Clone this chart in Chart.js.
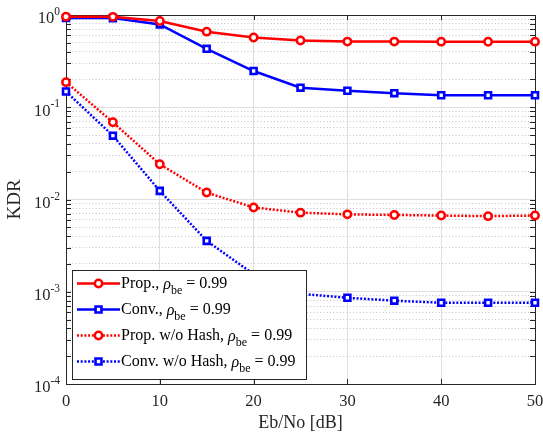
<!DOCTYPE html>
<html><head><meta charset="utf-8">
<script src="https://cdn.jsdelivr.net/npm/chart.js@4/dist/chart.umd.min.js"></script>
<style>html,body{margin:0;padding:0;background:#fff}</style>
</head><body>
<canvas id="c" width="543" height="434"></canvas>
<script>
// ---- data ----
const ebnoDb = [0, 5, 10, 15, 20, 25, 30, 35, 40, 45, 50];
const propKDR = [0.96, 0.955, 0.86, 0.66, 0.57, 0.53, 0.515, 0.515, 0.514, 0.512, 0.514];
const convKDR = [0.93, 0.925, 0.79, 0.43, 0.247, 0.163, 0.151, 0.142, 0.135, 0.135, 0.135];
const propNoHashKDR = [0.187, 0.0687, 0.0241, 0.0119, 0.0082, 0.0072, 0.0069, 0.0068, 0.0067, 0.0066, 0.0067];
const convNoHashKDR = [0.148, 0.0492, 0.0124, 0.00356, 0.00155, 0.00095, 0.00086, 0.0008, 0.00076, 0.00076, 0.00076];
const seriesNames = ['Prop., ', 'Conv., ', 'Prop. w/o Hash, ', 'Conv. w/o Hash, '];
const rhoLabel = '\u03C1';
const rhoSub = 'be';
const rhoValue = ' = 0.99';
const xTicks = [0, 10, 20, 30, 40, 50];
const yDecades = [1e-4, 1e-3, 1e-2, 1e-1, 1];
const yTickBase = '10';

const SERIF = '"Liberation Serif", "DejaVu Serif", serif';
const pts = arr => ebnoDb.map((x, i) => ({x, y: arr[i]}));

function mk(label, arr, color, dash, style) {
  const circ = style === 'circle';
  return {
    label, data: pts(arr), borderColor: color, backgroundColor: color,
    borderWidth: 2.5, borderDash: dash, pointStyle: style,
    pointRadius: circ ? 3.7 : 4.2, pointBorderWidth: circ ? 2.5 : 2.6,
    pointBackgroundColor: '#ffffff', pointBorderColor: color,
    tension: 0, yAxisID: 'y', clip: false
  };
}

const minorTicks = [];
for (let e = -4; e < 0; e++) for (let m = 2; m <= 9; m++) minorTicks.push(m * Math.pow(10, e));

const frame = {
  id: 'frame',
  beforeDatasetsDraw(chart) {
    const {ctx, chartArea: a, scales} = chart;
    ctx.save();
    ctx.strokeStyle = '#262626'; ctx.lineWidth = 1;
    ctx.beginPath();
    const L = 5;
    scales.x.ticks.forEach(t => {
      const px = Math.round(scales.x.getPixelForValue(t.value)) + 0.5;
      ctx.moveTo(px, a.bottom); ctx.lineTo(px, a.bottom - L);
      ctx.moveTo(px, a.top); ctx.lineTo(px, a.top + L);
    });
    scales.y.ticks.concat(scales.yMinor.ticks).forEach(t => {
      const py = Math.round(scales.y.getPixelForValue(t.value)) + 0.5;
      ctx.moveTo(a.left, py); ctx.lineTo(a.left + L, py);
      ctx.moveTo(a.right, py); ctx.lineTo(a.right - L, py);
    });
    ctx.stroke();
    ctx.strokeRect(Math.round(a.left) + 0.5, Math.round(a.top) + 0.5, Math.round(a.right - a.left), Math.round(a.bottom - a.top));
    // y tick labels with superscript exponents
    ctx.fillStyle = '#262626'; ctx.textAlign = 'right'; ctx.textBaseline = 'middle';
    scales.y.ticks.forEach(t => {
      const py = scales.y.getPixelForValue(t.value);
      const exp = String(Math.round(Math.log10(t.value)));
      const ex = a.left - 6;
      ctx.font = '11.5px ' + SERIF;
      ctx.fillText(exp, ex, py - 3);
      const ew = ctx.measureText(exp).width;
      ctx.font = '16.5px ' + SERIF;
      ctx.fillText(yTickBase, ex - ew, py + 4);
    });
    ctx.restore();
  },
  afterDraw(chart) {
    const {ctx, chartArea: a} = chart;
    const w = 234, h = 109, rowH = 26;
    const x0 = Math.round(a.left) + 6, y0 = Math.round(a.bottom) - 5 - h;
    ctx.save();
    ctx.fillStyle = '#fff'; ctx.fillRect(x0, y0, w, h);
    ctx.strokeStyle = '#262626'; ctx.lineWidth = 1;
    ctx.strokeRect(x0 + 0.5, y0 + 0.5, w, h);
    chart.data.datasets.forEach((ds, i) => {
      const cy = y0 + 13.5 + i * rowH;
      ctx.strokeStyle = ds.borderColor; ctx.lineWidth = ds.borderWidth;
      ctx.setLineDash(ds.borderDash || []);
      ctx.beginPath(); ctx.moveTo(x0 + 5, cy); ctx.lineTo(x0 + 48, cy); ctx.stroke();
      ctx.setLineDash([]);
      ctx.fillStyle = '#fff'; ctx.strokeStyle = ds.borderColor; ctx.lineWidth = ds.pointBorderWidth;
      Chart.helpers.drawPoint(ctx, {pointStyle: ds.pointStyle, radius: ds.pointRadius, borderWidth: ds.pointBorderWidth, rotation: 0}, x0 + 26.5, cy);
      ctx.fillStyle = '#000'; ctx.textBaseline = 'middle'; ctx.textAlign = 'left';
      let tx = x0 + 49;
      ctx.font = '16px ' + SERIF;
      ctx.fillText(seriesNames[i], tx, cy); tx += ctx.measureText(seriesNames[i]).width;
      ctx.font = 'italic 16px ' + SERIF;
      ctx.fillText(rhoLabel, tx, cy + 1); tx += ctx.measureText(rhoLabel).width;
      ctx.font = '12px ' + SERIF;
      ctx.fillText(rhoSub, tx, cy + 7); tx += ctx.measureText(rhoSub).width;
      ctx.font = '16px ' + SERIF;
      ctx.fillText(rhoValue, tx, cy);
    });
    ctx.restore();
  }
};

new Chart(document.getElementById('c'), {
  type: 'line',
  data: {
    datasets: [
      mk(seriesNames[0] + rhoLabel + rhoSub + rhoValue, propKDR, '#ff0000', [], 'circle'),
      mk(seriesNames[1] + rhoLabel + rhoSub + rhoValue, convKDR, '#0000ff', [], 'rect'),
      mk(seriesNames[2] + rhoLabel + rhoSub + rhoValue, propNoHashKDR, '#ff0000', [2, 1.7], 'circle'),
      mk(seriesNames[3] + rhoLabel + rhoSub + rhoValue, convNoHashKDR, '#0000ff', [2, 1.7], 'rect')
    ]
  },
  options: {
    responsive: false, animation: false, devicePixelRatio: 1,
    layout: {padding: {left: 0, right: 8, top: 15, bottom: 0}},
    plugins: {legend: {display: false}, tooltip: {enabled: false}},
    scales: {
      x: {
        type: 'linear', min: 0, max: 50,
        afterBuildTicks: s => { s.ticks = xTicks.map(v => ({value: v})); },
        afterFit: s => { s.height = 50; s.paddingLeft = 0; s.paddingRight = 0; },
        ticks: {font: {family: SERIF, size: 16.5}, color: '#262626', padding: 8, maxRotation: 0},
        grid: {color: '#dedede', lineWidth: 1, drawTicks: false},
        border: {display: false},
        title: {display: true, text: 'Eb/No [dB]', font: {family: SERIF, size: 18}, color: '#262626', padding: {top: 2, bottom: 0}}
      },
      yMinor: {
        type: 'logarithmic', position: 'left', min: 1e-4, max: 1,
        afterBuildTicks: s => { s.ticks = minorTicks.map(v => ({value: v})); },
        afterFit: s => { s.width = 0; },
        ticks: {display: false},
        grid: {color: '#c4c4c4', lineWidth: 1, drawTicks: false},
        border: {display: false, dash: [1, 2.3]}
      },
      y: {
        type: 'logarithmic', position: 'left', min: 1e-4, max: 1,
        afterBuildTicks: s => { s.ticks = yDecades.map(v => ({value: v})); },
        afterFit: s => { s.width = 66; s.paddingTop = 0; s.paddingBottom = 0; },
        ticks: {display: false},
        grid: {color: '#dedede', lineWidth: 1, drawTicks: false},
        border: {display: false},
        title: {display: true, text: 'KDR', font: {family: SERIF, size: 19}, color: '#262626', padding: {top: 4, bottom: 0}}
      }
    }
  },
  plugins: [frame]
});
</script>
</body></html>
